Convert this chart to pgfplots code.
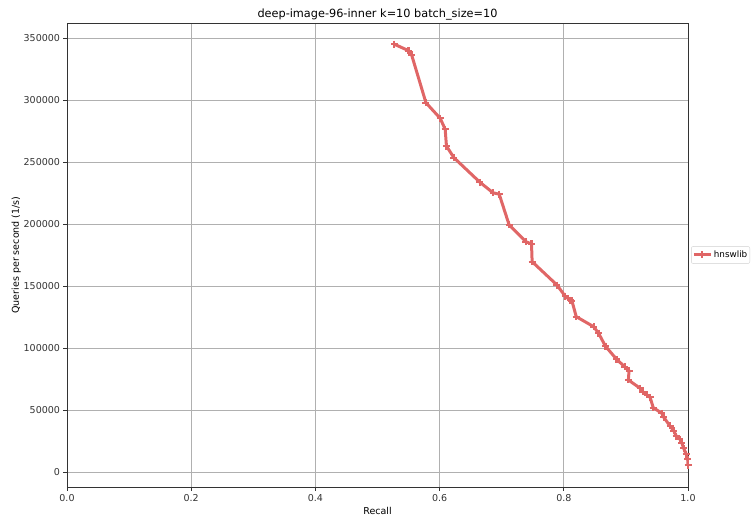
\documentclass[border=0pt]{standalone}
\usepackage{fontspec}
\setmainfont{DejaVu Sans}
\usepackage{pgfplots}
\pgfplotsset{compat=1.18}
\definecolor{serieslc}{RGB}{224,102,102}
\definecolor{gridc}{RGB}{176,176,176}
\begin{document}
\begin{tikzpicture}
\begin{axis}[
  scale only axis,
  width=621pt, height=464pt,
  xmin=0, xmax=1,
  ymin=-12100, ymax=362100,
  xtick={0,0.2,0.4,0.6,0.8,1.0},
  ytick={0,50000,100000,150000,200000,250000,300000,350000},
  scaled y ticks=false,
  scaled x ticks=false,
  xticklabel style={/pgf/number format/fixed,/pgf/number format/fixed zerofill,/pgf/number format/precision=1},
  yticklabel style={/pgf/number format/fixed,/pgf/number format/1000 sep={}},
  /pgf/number format/assume math mode=true,
  tick label style={font=\fontsize{9.5}{11}\selectfont, text=black!80},
  label style={font=\fontsize{9.5}{11}\selectfont},
  title style={font=\fontsize{11.3}{13}\selectfont, yshift=-7pt},
  title={deep-image-96-inner k=10 batch\_size=10},
  xlabel={Recall},
  ylabel={Queries per second (1/s)},
  xlabel style={yshift=1pt},
  ylabel style={yshift=-4pt},
  grid=major,
  major grid style={gridc, line width=0.8pt},
  axis line style={black!80, line width=0.9pt},
  tick style={black!80, line width=0.8pt},
  tick align=outside,
  major tick length=3.5pt,
  xtick pos=bottom, ytick pos=left,
  legend style={at={(1.005,0.5)}, anchor=west, draw=black!18, rounded corners=2pt,
    font=\fontsize{8.8}{10}\selectfont, inner xsep=1pt, inner ysep=2.5pt,
    nodes={inner xsep=1.5pt}},
  legend cell align=left,
]
\addplot[serieslc, line width=3pt, mark=+, mark size=3.5pt, mark options={line width=2.2pt}]
coordinates {
(0.527,345000)
(0.550,339800)
(0.555,336300)
(0.578,297800)
(0.601,285200)
(0.609,276300)
(0.611,262900)
(0.623,253500)
(0.665,233600)
(0.686,225200)
(0.696,224000)
(0.712,199200)
(0.739,185700)
(0.748,183900)
(0.749,169600)
(0.789,150800)
(0.802,141900)
(0.810,138700)
(0.813,138200)
(0.820,125300)
(0.848,117200)
(0.856,111900)
(0.867,101500)
(0.885,90900)
(0.898,84900)
(0.905,81700)
(0.904,74200)
(0.923,67500)
(0.927,64800)
(0.934,62100)
(0.939,60200)
(0.944,51900)
(0.958,47300)
(0.961,44100)
(0.971,37100)
(0.977,33300)
(0.981,29000)
(0.987,26400)
(0.990,23600)
(0.993,19100)
(0.997,14500)
(0.9995,10200)
(1.0,5600)
};
\addlegendentry{hnswlib}
\end{axis}
\pgfresetboundingbox
\useasboundingbox (-67pt,-30pt) rectangle (684pt,487pt);
\end{tikzpicture}
\end{document}
